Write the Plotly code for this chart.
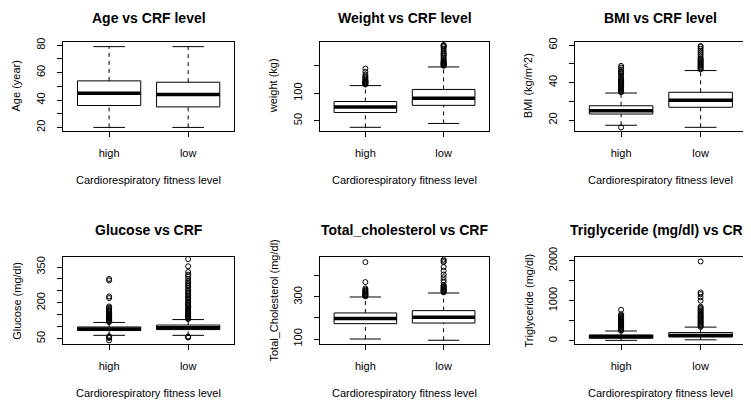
import plotly.graph_objects as go

categories = ["high", "low"]

# Five-number style summaries: [lower whisker, Q1, median, Q3, upper whisker] per group
age_high = [20, 36, 45, 54, 79]
age_low = [20, 35, 44, 53, 79]
age_high_out = []
age_low_out = []

weight_high = [38, 65, 75, 85, 114]
weight_low = [45, 78, 91, 107, 148]
weight_high_out = [116, 117, 118, 119, 120, 121, 122, 123, 125, 127, 129, 131, 134, 139, 145]
weight_low_out = [150, 151, 152, 153, 154, 155, 156, 157, 158, 160, 162, 165, 168, 170, 172,
                  174, 177, 181, 184, 186, 187, 188]

bmi_high = [17.2, 23.2, 25.0, 27.6, 34.4]
bmi_low = [16.1, 26.8, 30.5, 34.8, 46.4]
bmi_high_out = [16.0, 34.8, 35.2, 35.6, 36.0, 36.5, 37.0, 37.5, 38.0, 38.5, 39.0, 39.5, 40.0,
                40.5, 41.0, 41.5, 42.0, 43.0, 44.0, 45.0, 45.5, 46.0, 47.0, 48.0, 48.9]
bmi_low_out = [47.0, 47.5, 48.0, 48.5, 49.0, 49.5, 50.0, 50.5, 51.0, 51.5, 52.0, 52.5, 53.0,
               54.0, 55.0, 56.0, 57.0, 58.0, 59.0, 59.5]

glucose_high = [64, 84, 91, 99, 118]
glucose_low = [64, 88, 96, 107, 130]
glucose_high_out = [43, 53, 56, 58, 60, 120, 122, 124, 126, 128, 130, 133, 136, 139, 142, 145,
                    148, 151, 155, 160, 165, 170, 175, 180, 185, 220, 227, 294, 300]
glucose_low_out = [55, 57, 59, 132, 135, 138, 141, 144, 147, 150, 154, 158, 162, 166, 170, 175,
                   180, 185, 190, 195, 200, 206, 212, 218, 224, 230, 236, 242, 248, 255, 263,
                   270, 276, 284, 290, 300, 311, 318, 329, 353, 383]

chol_high = [100, 173, 197, 224, 300]
chol_low = [94, 176, 203, 235, 319]
chol_high_out = [303, 306, 309, 312, 315, 318, 322, 326, 330, 335, 341, 371, 466]
chol_low_out = [322, 325, 328, 331, 334, 337, 340, 344, 348, 352, 356, 370, 380, 394, 407, 425,
                443, 466, 472, 478]

trig_high = [10, 66, 98, 146, 244]
trig_low = [24, 98, 132, 205, 341]
trig_high_out = [250, 270, 290, 310, 330, 350, 370, 390, 410, 430, 450, 470, 490, 510, 530, 550,
                 570, 590, 610, 630, 659, 773]
trig_low_out = [345, 370, 395, 420, 445, 470, 495, 520, 545, 570, 595, 620, 645, 670, 700, 730,
                760, 790, 820, 850, 1000, 1083, 1163, 1205, 1980]

titles = ["Age vs CRF level", "Weight vs CRF level", "BMI vs CRF level",
          "Glucose vs CRF", "Total_cholesterol vs CRF", "Triglyceride (mg/dl) vs CRF"]
ylabels = ["Age (year)", "weight (kg)", "BMI (kg/m^2)",
           "Glucose (mg/dl)", "Total_Cholesterol (mg/dl)", "Triglyceride (mg/dl)"]
xlabel = "Cardiorespiratory fitness level"

y_ticks = [[20, 30, 40, 50, 60, 70, 80], [50, 100, 150], [20, 30, 40, 50, 60],
           [50, 100, 150, 200, 250, 300, 350], [100, 200, 300, 400], [0, 500, 1000, 1500, 2000]]
y_ticktext = [["20", "", "40", "", "60", "", "80"], ["50", "100", ""], ["20", "", "40", "", "60"],
              ["50", "", "", "200", "", "", "350"], ["100", "", "300", ""], ["0", "", "1000", "", "2000"]]
y_ranges = [[17.6, 82.6], [31.8, 194], [14.3, 61.8], [29, 390.6], [77.6, 489], [-73, 2083]]

panels = [
    (age_high, age_low, age_high_out, age_low_out),
    (weight_high, weight_low, weight_high_out, weight_low_out),
    (bmi_high, bmi_low, bmi_high_out, bmi_low_out),
    (glucose_high, glucose_low, glucose_high_out, glucose_low_out),
    (chol_high, chol_low, chol_high_out, chol_low_out),
    (trig_high, trig_low, trig_high_out, trig_low_out),
]

# page body has an 8px margin, so the figure is placed at (8, 8) in the window
OFF = 8
W, H = 751 - OFF, 400 - OFF
col_px = [(63.3, 234.0), (320.0, 489.0), (575.0, 746.7)]
row_px = [(41.7, 130.7), (257.3, 343.7)]


def px_x(v):
    return (v - OFF) / W


def px_y(v):
    return 1 - (v - OFF) / H


FONT = "Liberation Sans, Arial, Helvetica, sans-serif"
BOXW = 0.8
fig = go.Figure()
layout = dict(width=W, height=H, margin=dict(l=0, r=0, t=0, b=0, autoexpand=False),
              paper_bgcolor="white", plot_bgcolor="white", showlegend=False,
              font=dict(family=FONT, size=11, color="black"))
annotations = []

for i, (s_high, s_low, o_high, o_low) in enumerate(panels):
    r, c = divmod(i, 3)
    x0, x1 = col_px[c]
    y0, y1 = row_px[r]
    xa = "x" if i == 0 else f"x{i+1}"
    ya = "y" if i == 0 else f"y{i+1}"
    xkey = "xaxis" if i == 0 else f"xaxis{i+1}"
    ykey = "yaxis" if i == 0 else f"yaxis{i+1}"

    for pos, stats, outs in [(1, s_high, o_high), (2, s_low, o_low)]:
        lo, q1, med, q3, hi = stats
        fig.add_trace(go.Box(x=[pos], q1=[q1], median=[med], q3=[q3], lowerfence=[q1],
                             upperfence=[q3], width=BOXW, whiskerwidth=0,
                             fillcolor="white", line=dict(color="black", width=1),
                             boxpoints=False, xaxis=xa, yaxis=ya, hoverinfo="skip"))
        # dashed whiskers
        fig.add_trace(go.Scatter(x=[pos, pos, None, pos, pos], y=[q3, hi, None, lo, q1],
                                 mode="lines", line=dict(color="black", width=1, dash="4px,4px"),
                                 xaxis=xa, yaxis=ya, hoverinfo="skip"))
        # staples
        fig.add_trace(go.Scatter(x=[pos - BOXW / 4, pos + BOXW / 4, None, pos - BOXW / 4, pos + BOXW / 4],
                                 y=[hi, hi, None, lo, lo], mode="lines",
                                 line=dict(color="black", width=1), xaxis=xa, yaxis=ya,
                                 hoverinfo="skip"))
        # thick median
        fig.add_trace(go.Scatter(x=[pos - BOXW / 2, pos + BOXW / 2], y=[med, med], mode="lines",
                                 line=dict(color="black", width=3.5), xaxis=xa, yaxis=ya,
                                 hoverinfo="skip"))
        if outs:
            fig.add_trace(go.Scatter(x=[pos] * len(outs), y=outs, mode="markers",
                                     marker=dict(symbol="circle-open", size=5,
                                                 line=dict(color="black", width=1), color="black"),
                                     xaxis=xa, yaxis=ya, hoverinfo="skip"))

    layout[xkey] = dict(domain=[px_x(x0), px_x(x1)], anchor=ya, range=[0.42, 2.58],
                        tickmode="array", tickvals=[1, 2], ticktext=categories,
                        ticks="outside", ticklen=5, tickcolor="black", showline=True,
                        mirror=True, linecolor="black", linewidth=1, showgrid=False,
                        zeroline=False, ticklabelstandoff=7, automargin=False,
                        tickfont=dict(family=FONT, size=11, color="black"))
    layout[ykey] = dict(domain=[px_y(y1), px_y(y0)], anchor=xa, range=y_ranges[i],
                        tickmode="array", tickvals=y_ticks[i], ticktext=y_ticktext[i],
                        tickangle=-90, ticks="outside", ticklen=5, tickcolor="black",
                        showline=True, mirror=True, linecolor="black", linewidth=1,
                        showgrid=False, zeroline=False, ticklabelstandoff=8, automargin=False,
                        tickfont=dict(family=FONT, size=11, color="black"))

    cx = (x0 + x1) / 2
    cy = (y0 + y1) / 2
    title_y = 17.5 if r == 0 else 229.5
    annotations.append(dict(text=f"<b>{titles[i]}</b>", x=px_x(cx), y=px_y(title_y),
                            xref="paper", yref="paper", xanchor="center", yanchor="middle",
                            showarrow=False, font=dict(family=FONT, size=14, color="black")))
    annotations.append(dict(text=xlabel, x=px_x(cx), y=px_y(y1 + 49.5),
                            xref="paper", yref="paper", xanchor="center", yanchor="middle",
                            showarrow=False, font=dict(family=FONT, size=11, color="black")))
    annotations.append(dict(text=ylabels[i], x=px_x(x0 - 47), y=px_y(cy), textangle=-90,
                            xref="paper", yref="paper", xanchor="center", yanchor="middle",
                            showarrow=False, font=dict(family=FONT, size=11, color="black")))

layout["annotations"] = annotations
fig.update_layout(**layout)
fig.write_html("out.html")
